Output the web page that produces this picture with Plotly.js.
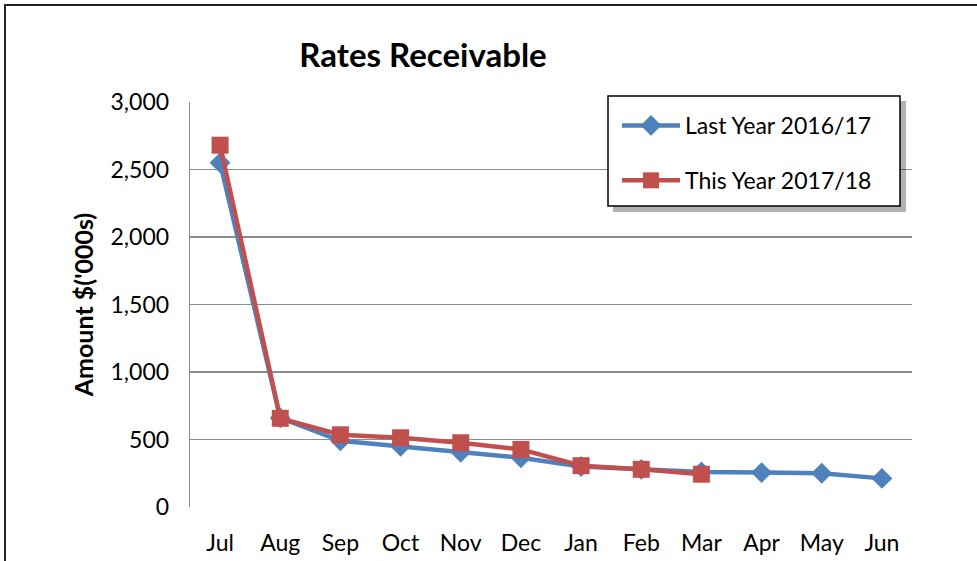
<!DOCTYPE html>
<html>
<head>
<meta charset="utf-8">
<script src="https://cdn.plot.ly/plotly-3.0.1.min.js"></script>
<style>html,body{margin:0;padding:0;background:#fff;}#chart{width:977px;height:561px;}</style>
</head>
<body>
<div id="chart"></div>
<script>
const months = ["Jul","Aug","Sep","Oct","Nov","Dec","Jan","Feb","Mar","Apr","May","Jun"];
const lastYear = [2550, 660, 490, 450, 405, 365, 300, 278, 260, 255, 250, 212];
const thisYear = [2680, 657, 535, 513, 476, 427, 306, 279, 243];
const yTicks = [0, 500, 1000, 1500, 2000, 2500, 3000];
const yTickText = ["0", "500", "1,000", "1,500", "2,000", "2,500", "3,000"];

const FONT = "Lato, 'Open Sans', sans-serif";

const traces = [
  {
    x: months, y: lastYear, type: "scatter", mode: "lines+markers",
    name: "Last Year 2016/17", legendgroup: "a",
    line: {color: "#4F81BD", width: 4.5},
    marker: {symbol: "diamond", size: 16, color: "#4F81BD"}
  },
  {
    x: months.slice(0, thisYear.length), y: thisYear, type: "scatter", mode: "lines+markers",
    name: "This Year 2017/18", legendgroup: "b",
    line: {color: "#C0504D", width: 4.5},
    marker: {symbol: "square", size: 17, color: "#C0504D"}
  }
];

const L = 190, R = 912, T = 102, B = 507, W = 977, H = 561;
const pw = R - L, ph = B - T;
const px = v => (v - L) / pw;
const py = v => (B - v) / ph;

const layout = {
  width: W, height: H,
  margin: {l: L, r: W - R, t: T, b: H - B},
  paper_bgcolor: "#fff", plot_bgcolor: "#fff",
  font: {family: FONT, color: "#000", size: 20},
  title: {text: "<b>Rates Receivable</b>", font: {family: FONT, size: 33, color: "#000", weight: 900},
          x: 423 / W, xanchor: "center", y: 1 - 55 / H, yanchor: "middle"},
  xaxis: {
    type: "category", categoryorder: "array", categoryarray: months,
    range: [-0.5, 11.5], showgrid: false, zeroline: false, showline: false,
    ticks: "", tickfont: {family: FONT, size: 23, color: "#000"}, ticklabelstandoff: 20
  },
  yaxis: {
    range: [0, 3000], tickvals: yTicks, ticktext: yTickText,
    showgrid: true, gridcolor: "#8c8c8c", gridwidth: 1.3,
    zeroline: false, showline: true, linecolor: "#8c8c8c", linewidth: 1.3,
    ticks: "", tickfont: {family: FONT, size: 23, color: "#000"}, ticklabelstandoff: 15,
    title: {text: "<b>Amount $('000s)</b>", font: {family: FONT, size: 25, color: "#000", weight: 900}, standoff: 9}
  },
  showlegend: true,
  legend: {
    x: px(617), y: py(104), xanchor: "left", yanchor: "top",
    bgcolor: "rgba(0,0,0,0)", borderwidth: 0,
    font: {family: FONT, size: 23, color: "#000"},
    tracegroupgap: 22, itemwidth: 58, traceorder: "grouped"
  },
  shapes: [
    {type: "rect", xref: "paper", yref: "paper",
     x0: px(613), x1: px(906), y0: py(212), y1: py(101),
     fillcolor: "rgba(0,0,0,0.3)", line: {width: 0}, layer: "above"},
    {type: "rect", xref: "paper", yref: "paper",
     x0: px(608), x1: px(900), y0: py(206), y1: py(96),
     fillcolor: "#fff", line: {color: "#000", width: 1.5}, layer: "above"},
    {type: "rect", xref: "paper", yref: "paper",
     x0: px(5), x1: px(990), y0: py(580), y1: py(5),
     fillcolor: "rgba(0,0,0,0)", line: {color: "#222", width: 2}, layer: "above"}
  ]
};

Plotly.newPlot("chart", traces, layout, {displayModeBar: false, staticPlot: true});
</script>
</body>
</html>
